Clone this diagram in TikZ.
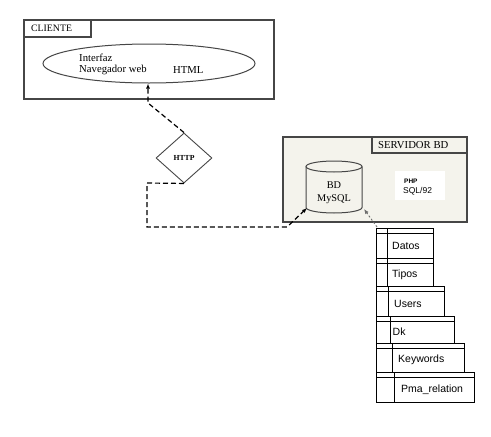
\documentclass[tikz,border=0pt]{standalone}
\usepackage{fontspec}
\setmainfont{Liberation Serif}
\newfontfamily\tablafont{Liberation Sans}
\usetikzlibrary{shapes.geometric,arrows.meta}

\definecolor{borde}{RGB}{70,70,70}
\definecolor{fondoserv}{RGB}{244,243,236}
\definecolor{flechagris}{RGB}{110,110,110}

\begin{document}
\begin{tikzpicture}[x=1pt,y=-1pt,font=\fontsize{10.7}{11}\selectfont,
  caja/.style={draw=borde,line width=1.3},
  enlace/.style={draw=black,line width=1.2,dash pattern=on 5pt off 3pt,-{Latex[length=5,width=4]}},
  tabla/.style={draw=black,line width=0.9},
  tabtxt/.style={font=\tablafont\fontsize{10.5}{12}\selectfont,anchor=west,inner sep=0}]

\useasboundingbox (0,0) rectangle (491,437);

\begin{scope}
\draw[caja,fill=white] (24,20) rectangle (274,99);
\draw[caja] (24,20) rectangle (91,37);
\node[anchor=west,inner sep=0,font=\fontsize{9.8}{11}\selectfont] (cliente) at (31,28.5) {CLIENTE};

\node[draw=borde,line width=1,ellipse,minimum width=212,minimum height=39,inner sep=0] (navegador) at (149,63.5) {};
\node[anchor=west,align=left,inner sep=0] (interfaz) at (79,64.5) {Interfaz\\Navegador web};
\node[anchor=west,inner sep=0] (html) at (173,70) {HTML};
\end{scope}

\node[draw=borde,line width=0.9,diamond,minimum width=56,minimum height=50,inner sep=0,
  font=\fontsize{7.7}{9}\selectfont\bfseries] (http) at (184,158) {HTTP};

\begin{scope}
\draw[caja,fill=fondoserv] (283,137) rectangle (467,222);
\draw[caja] (372,137) rectangle (467,153);
\node[anchor=west,inner sep=0] (servidor) at (378,145.5) {SERVIDOR BD};

\draw[draw=borde,line width=1,fill=fondoserv] (306,166.5) -- (306,207.5)
  arc[start angle=180,end angle=0,x radius=28,y radius=5.5] -- (362,166.5);
\draw[draw=borde,line width=1] (334,166.5) ellipse [x radius=28,y radius=5.5];
\node[align=center,inner sep=0,font=\fontsize{10.3}{13}\selectfont] (bd) at (334,193) {BD\\MySQL};

\node[fill=white,minimum width=50,minimum height=29,inner sep=0] (php) at (420,185.5) {};
\node[anchor=west,inner sep=0,font=\tablafont\fontsize{6.5}{8}\selectfont\bfseries] (phptxt) at (404,181) {PHP};
\node[anchor=west,inner sep=0,font=\tablafont\fontsize{8.5}{10}\selectfont] (sql) at (403,191.5) {SQL/92};
\end{scope}

\foreach \nombre/\arriba/\abajo/\der/\col/\tx [count=\i] in
  {Datos/228/258/433/387/392, Tipos/258/286/433/387/392, Users/286/316/444/388/394,
   Dk/316/343/454/390/392.5, Keywords/343/372/464/392/398, Pma\_relation/372/402/474/394/401}
{
  \draw[tabla] (376,\arriba) rectangle (\der,\abajo);
  \draw[tabla] (376,\arriba+5) -- (\der,\arriba+5);
  \draw[tabla] (\col,\arriba) -- (\col,\abajo);
  \node[tabtxt] (tabla\i) at ({\tx},{(\arriba+5+\abajo)/2}) {\nombre};
}

\coordinate (codo1) at (148,103);
\coordinate (codo2) at (147,183);
\coordinate (codo3) at (147,227);
\coordinate (codo4) at (287,227);
\coordinate (bdizq) at (307,208);
\coordinate (bdder) at (364,209);
\coordinate (tablas) at (377,227);

\draw[enlace] (http.north) -- (codo1) -- (codo1 |- navegador.south);
\draw[enlace] (http.south) -- (codo2) -- (codo3) -- (codo4) -- (bdizq);
\draw[draw=flechagris,line width=0.9,dash pattern=on 2pt off 2pt,-{Latex[length=5,width=4]}] (tablas) -- (bdder);

\end{tikzpicture}
\end{document}
